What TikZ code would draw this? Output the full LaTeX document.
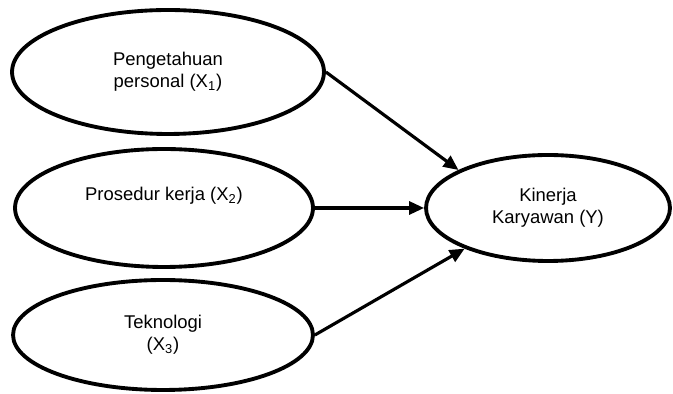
\documentclass[tikz,border=0pt]{standalone}
\usepackage{fontspec}
\setmainfont{Liberation Sans}
\usepackage{tikz}
\usetikzlibrary{arrows.meta, shapes.geometric}

\begin{document}
\begin{tikzpicture}[
      x=0.02cm, y=-0.02cm,
      var/.style={draw, ellipse, line width=2.2pt, inner sep=0pt, align=center, font=\fontsize{10.5}{12.5}\selectfont},
      link/.style={line width=1.8pt, -{Triangle[length=0.3cm, width=0.26cm]}}
    ]
    \useasboundingbox (0,0) rectangle (673,394);
    \node[var, minimum width=6.24cm, minimum height=2.48cm] (pk) at (168,72) {Pengetahuan\\personal (X\textsubscript{1})};
    \node[var, minimum width=5.96cm, minimum height=2.36cm] (pr) at (164,208) {Prosedur kerja (X\textsubscript{2})\\ \strut};
    \node[var, minimum width=6.0cm, minimum height=2.2cm] (tk) at (163,335) {Teknologi\\(X\textsubscript{3})};
    \node[var, minimum width=4.88cm, minimum height=2.12cm] (kk) at (548,208) {Kinerja\\Karyawan (Y)};

    \draw[link] (pk.east) -- (kk.157);
    \draw[link] (pr.east) -- (kk.west);
    \draw[link] (tk.east) -- (kk.206);
  \end{tikzpicture}
\end{document}
